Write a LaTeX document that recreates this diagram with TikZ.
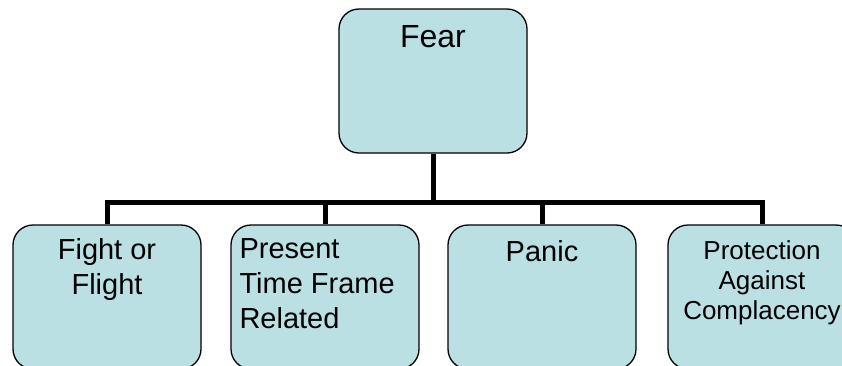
\documentclass[tikz,border=0pt]{standalone}
\usepackage{fontspec}
\setmainfont{Liberation Sans}
\usetikzlibrary{positioning}

\definecolor{boxblue}{RGB}{187,224,228}

\begin{document}
\begin{tikzpicture}[
    x=1pt, y=-1pt,
    unit/.style={
        rectangle, rounded corners=20pt,
        draw=black, line width=1.3pt,
        fill=boxblue,
        minimum width=188pt, minimum height=144pt,
        inner sep=0pt
    },
    caption/.style={
        inner sep=0pt, align=center,
        font=\fontsize{29}{35}\selectfont
    },
    link/.style={
        line width=5pt, draw=black
    }
]

    \useasboundingbox (0,0) rectangle (842,365);

    % The boxes ===========================
    \node[unit] (fear) at (433,81) {};
    \node[unit] (fight) at (107,297) {};
    \node[unit] (present) at (325,297) {};
    \node[unit] (panic) at (542,297) {};
    \node[unit] (guard) at (762,297) {};

    % Texts inside the boxes ====================
    \node[caption, font=\fontsize{32}{38}\selectfont, below=17pt of fear.north] (fearText) {Fear};
    \node[caption, below=14pt of fight.north] (fightText) {Fight or\\Flight};
    \node[caption, align=left, below right=14pt and 9pt of present.north west] (presentText) {Present\\Time Frame\\Related};
    \node[caption, below=16pt of panic.north] (panicText) {Panic};
    \node[caption, font=\fontsize{26}{30}\selectfont, below=16pt of guard.north] (guardText) {Protection\\Against\\Complacency};

    % Connectors ====================
    \coordinate (bus) at (433,202);
    \draw[link] (fear.south) -- (bus);
    \draw[link] (fight.north) |- (bus) -| (guard.north);
    \draw[link] (present.north) -- (present.north |- bus);
    \draw[link] (panic.north) -- (panic.north |- bus);

\end{tikzpicture}
\end{document}
